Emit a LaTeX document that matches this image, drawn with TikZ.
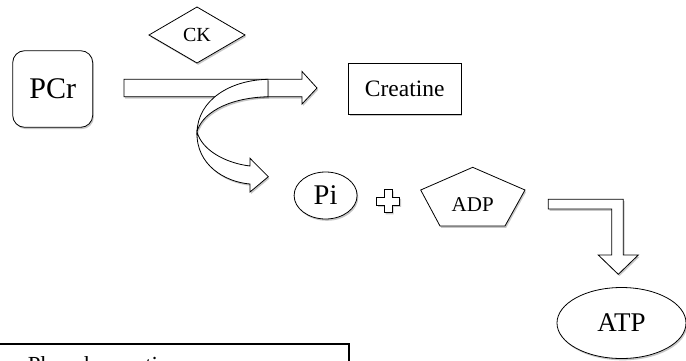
\documentclass[tikz,border=0pt]{standalone}
\usepackage{fontspec}
\setmainfont{Liberation Serif}
\usetikzlibrary{shapes.geometric,shadows}

\begin{document}
\begin{tikzpicture}[x=1pt,y=-1pt,
  every node/.style={inner sep=0pt, outer sep=0pt},
  ln/.style={draw=black, line width=0.8pt, line join=miter},
  shd/.style={drop shadow={shadow xshift=1.2pt, shadow yshift=-1.8pt, opacity=0.22, fill=black}},
  box/.style={ln, fill=white, shd},
  blockarrow/.style={ln, fill=white, shd},
]
\useasboundingbox (0,0) rectangle (686,360);
\clip (0,0) rectangle (686,360);

% nodes
\node[box, rounded corners=12pt, minimum width=80pt, minimum height=76.6pt,
      font=\fontsize{30}{30}\selectfont] (pcr) at (52.7,89) {PCr};
\node[box, diamond, minimum width=96pt, minimum height=56pt,
      font=\fontsize{20}{20}\selectfont] (ck) at (197,35) {CK};
\node[box, minimum width=112.7pt, minimum height=50.7pt,
      font=\fontsize{23.5}{24}\selectfont] (cr) at (404.7,88.7) {Creatine};
\node[box, ellipse, minimum width=63pt, minimum height=47pt,
      font=\fontsize{28.5}{29}\selectfont] (pi) at (325.6,195.5) {Pi};
\draw[box] (472.7,167.3) -- (525,190) -- (505,226) -- (440,226) -- (420.7,190) -- cycle;
\node[font=\fontsize{21}{21}\selectfont] (adp) at (472.7,205) {ADP};
\node[box, ellipse, minimum width=129pt, minimum height=71pt,
      font=\fontsize{27}{27}\selectfont] (atp) at (621.5,323) {ATP};

% plus sign
\draw[box] (384.3,189.5) -- (392.3,189.5) -- (392.3,197) -- (399.8,197) -- (399.8,205)
  -- (392.3,205) -- (392.3,212.5) -- (384.3,212.5) -- (384.3,205) -- (376.8,205)
  -- (376.8,197) -- (384.3,197) -- cycle;

% straight block arrow PCr -> Creatine
\draw[blockarrow] (124,79.3) -- (302,79.3) -- (302,71.5) -- (317,88) -- (302,104)
  -- (302,96.7) -- (124,96.7) -- cycle;

% curved block arrow towards Pi (lower band, then upper band)
\draw[blockarrow] (197,132) .. controls (196,165) and (225,182) .. (250,184)
  -- (250,192) -- (268.3,176.7) -- (250,158.3) -- (250,166)
  .. controls (225,163) and (202,150) .. (197,132) -- cycle;
\draw[blockarrow] (268,79.3) .. controls (230,80) and (198,100) .. (197,132)
  .. controls (201,115) and (225,98) .. (268,96.7) -- cycle;

% elbow block arrow ADP -> ATP
\draw[blockarrow] (548.3,199.3) -- (623.3,199.3) -- (623.3,255) -- (638.3,255)
  -- (618.3,274.3) -- (598.3,255) -- (611.7,255) -- (611.7,209) -- (548.3,209) -- cycle;

% legend box (cut by the lower edge)
\draw[ln, line width=1.3pt, fill=white, shd] (-60,344) rectangle (349,420);
\node[anchor=base west, font=\fontsize{23}{23}\selectfont] (leg) at (-31,372) {PCr – Phosphocreatine};
\end{tikzpicture}
\end{document}
